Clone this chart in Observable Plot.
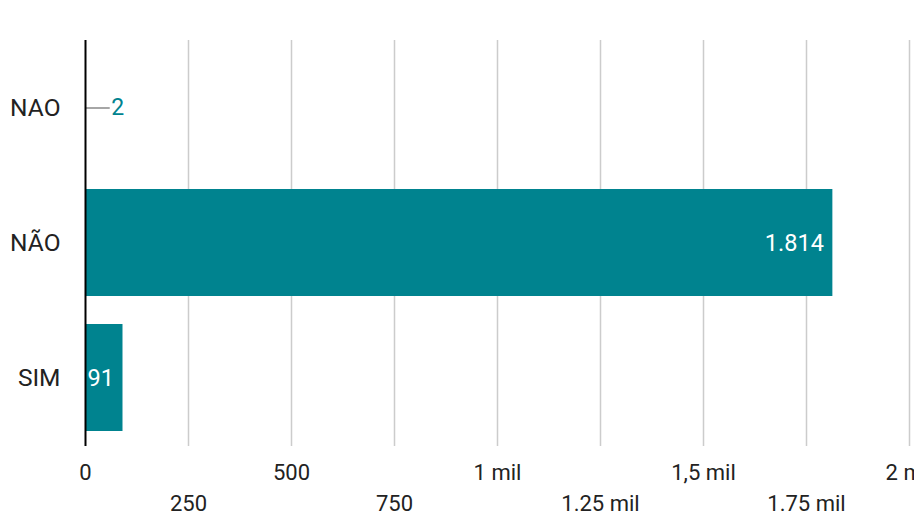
<!DOCTYPE html>
<html>
<head>
<meta charset="utf-8">
<script src="https://cdn.jsdelivr.net/npm/d3@7"></script>
<script src="https://cdn.jsdelivr.net/npm/@observablehq/plot@0.6"></script>
<style>
  html, body { margin: 0; padding: 0; background: #fff; }
  svg { display: block; font-family: Roboto, sans-serif; }
</style>
</head>
<body>
<div id="chart"></div>
<script>
const categories = ["NAO", "NÃO", "SIM"];
const values = [2, 1814, 91];
const valueLabels = ["2", "1.814", "91"];
const gridTicks = [0, 250, 500, 750, 1000, 1250, 1500, 1750, 2000];
const ticksRow1 = [0, 500, 1000, 1500, 2000];
const labelsRow1 = ["0", "500", "1 mil", "1,5 mil", "2 mil"];
const ticksRow2 = [250, 750, 1250, 1750];
const labelsRow2 = ["250", "750", "1.25 mil", "1.75 mil"];

const data = categories.map((c, i) => ({cat: c, value: values[i], label: valueLabels[i]}));
const inside = data.filter(d => d.value > 50);
const outside = data.filter(d => d.value <= 50);
const fmt1 = new Map(ticksRow1.map((t, i) => [t, labelsRow1[i]]));
const fmt2 = new Map(ticksRow2.map((t, i) => [t, labelsRow2[i]]));
const teal = "#00838f";

const chart = Plot.plot({
  width: 914,
  height: 513,
  marginLeft: 85,
  marginRight: 5,
  marginTop: 40,
  marginBottom: 67,
  style: {fontFamily: "Roboto, sans-serif", fontSize: "23px", color: "#222", overflow: "visible"},
  x: {domain: [0, 2000], axis: null, label: null},
  y: {domain: categories, paddingInner: 0.206, paddingOuter: 0.096, axis: null, label: null},
  marks: [
    Plot.ruleX(gridTicks.slice(1), {stroke: "#cccccc", strokeWidth: 1.5}),
    Plot.barX(data, {y: "cat", x: "value", fill: teal}),
    Plot.ruleY(outside, {y: "cat", x1: 0, x2: d => d.value + 58, stroke: "#888", strokeWidth: 1.5}),
    Plot.text(outside, {y: "cat", x: d => d.value + 58, text: "label", textAnchor: "start", dx: 1, fill: teal, fontSize: 23}),
    Plot.text(inside, {y: "cat", x: "value", text: "label", textAnchor: "end", dx: -9, fill: "white", fontSize: 23.5}),
    Plot.ruleX([0], {stroke: "black", strokeWidth: 2}),
    Plot.axisY({tickSize: 0, tickPadding: 25, fontSize: 24.5, fill: "#222", label: null}),
    Plot.axisX({ticks: ticksRow1, tickFormat: d => fmt1.get(d), tickSize: 0, tickPadding: 18, fontSize: 22, fill: "#222", label: null}),
    Plot.axisX({ticks: ticksRow2, tickFormat: d => fmt2.get(d), tickSize: 0, tickPadding: 49, fontSize: 22, fill: "#222", label: null})
  ]
});
document.getElementById("chart").appendChild(chart);
</script>
</body>
</html>
